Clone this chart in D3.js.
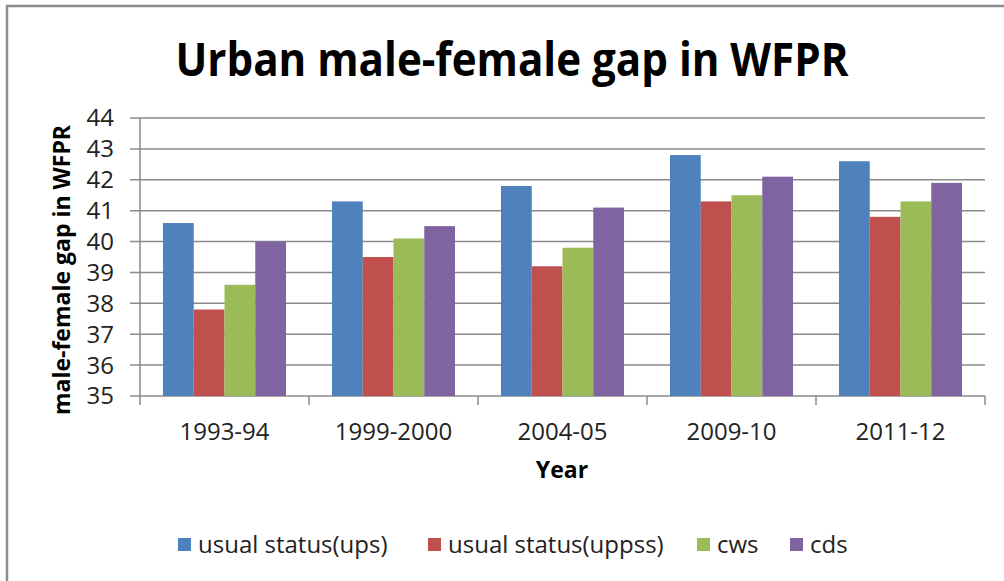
<!DOCTYPE html>
<html>
<head>
<meta charset="utf-8">
<script src="https://cdn.jsdelivr.net/npm/d3@7"></script>
<style>
  body { margin: 0; background: #fff; }
  text { font-family: "Open Sans", sans-serif; fill: #222; }
</style>
</head>
<body>
<svg id="chart" width="1004" height="581"></svg>
<script>
var years = ["1993-94", "1999-2000", "2004-05", "2009-10", "2011-12"];
var seriesNames = ["usual status(ups)", "usual status(uppss)", "cws", "cds"];
var ups   = [40.6, 41.3, 41.8, 42.8, 42.6];
var uppss = [37.8, 39.5, 39.2, 41.3, 40.8];
var cws   = [38.6, 40.1, 39.8, 41.5, 41.3];
var cds   = [40.0, 40.5, 41.1, 42.1, 41.9];
var yTicks = [35, 36, 37, 38, 39, 40, 41, 42, 43, 44];
var colors = ["#4F81BD", "#C0504D", "#9BBB59", "#8064A2"];

var allSeries = [ups, uppss, cws, cds];
var svg = d3.select("#chart");

// outer frame (only top and left visible in the original)
svg.append("rect")
    .attr("x", 7).attr("y", 6)
    .attr("width", 1010).attr("height", 600)
    .attr("fill", "none")
    .attr("stroke", "#8c8c8c")
    .attr("stroke-width", 2.5);

var plotLeft = 140, plotRight = 985, plotTop = 118, plotBottom = 396;

var x0 = d3.scaleBand()
    .domain(years)
    .range([plotLeft, plotRight])
    .paddingInner(0.272)
    .paddingOuter(0.136);

var x1 = d3.scaleBand()
    .domain(seriesNames)
    .range([0, x0.bandwidth()]);

var y = d3.scaleLinear()
    .domain([35, 44])
    .range([plotBottom, plotTop]);

// gridlines
svg.append("g")
    .selectAll("line")
    .data(yTicks)
    .join("line")
    .attr("x1", plotLeft - 10)
    .attr("x2", plotRight)
    .attr("y1", d => y(d))
    .attr("y2", d => y(d))
    .attr("stroke", "#8a8a8a")
    .attr("stroke-width", 1.5);

// y axis labels
svg.append("g")
    .selectAll("text")
    .data(yTicks)
    .join("text")
    .attr("x", 114)
    .attr("y", d => y(d))
    .attr("dy", "0.35em")
    .attr("text-anchor", "end")
    .style("font-size", "24px")
    .text(d => d);

// vertical axis line
svg.append("line")
    .attr("x1", plotLeft).attr("x2", plotLeft)
    .attr("y1", plotTop).attr("y2", plotBottom + 9)
    .attr("stroke", "#8a8a8a")
    .attr("stroke-width", 1.5);

// category separators on x axis
var step = x0.step();
svg.append("g")
    .selectAll("line")
    .data(years)
    .join("line")
    .attr("x1", (d, i) => plotLeft + step * (i + 1))
    .attr("x2", (d, i) => plotLeft + step * (i + 1))
    .attr("y1", plotBottom)
    .attr("y2", plotBottom + 9)
    .attr("stroke", "#8a8a8a")
    .attr("stroke-width", 1.5);

// bars
var groups = svg.append("g")
    .selectAll("g")
    .data(years)
    .join("g")
    .attr("transform", d => "translate(" + x0(d) + ",0)");

groups.selectAll("rect")
    .data((d, i) => seriesNames.map((s, j) => ({ s: s, v: allSeries[j][i], c: colors[j] })))
    .join("rect")
    .attr("x", d => x1(d.s))
    .attr("width", x1.bandwidth())
    .attr("y", d => y(d.v))
    .attr("height", d => y(35) - y(d.v))
    .attr("fill", d => d.c);

// x axis labels
svg.append("g")
    .selectAll("text")
    .data(years)
    .join("text")
    .attr("x", d => x0(d) + x0.bandwidth() / 2)
    .attr("y", 440)
    .attr("text-anchor", "middle")
    .style("font-size", "24px")
    .text(d => d);

// axis titles
svg.append("text")
    .attr("x", 562)
    .attr("y", 478)
    .attr("text-anchor", "middle")
    .style("font-size", "23px")
    .style("font-weight", "bold")
    .style("fill", "#000")
    .text("Year");

svg.append("text")
    .attr("transform", "translate(70,270) rotate(-90)")
    .attr("text-anchor", "middle")
    .style("font-size", "23px")
    .style("font-weight", "bold")
    .style("fill", "#000")
    .text("male-female gap in WFPR");

// chart title
svg.append("text")
    .attr("x", 512)
    .attr("y", 76)
    .attr("text-anchor", "middle")
    .attr("textLength", 673)
    .attr("lengthAdjust", "spacingAndGlyphs")
    .style("font-size", "46px")
    .style("font-weight", "bold")
    .style("fill", "#000")
    .text("Urban male-female gap in WFPR");

// legend
var legendX = [178, 428, 697, 790];
var legend = svg.append("g")
    .selectAll("g")
    .data(seriesNames)
    .join("g")
    .attr("transform", (d, i) => "translate(" + legendX[i] + ",545)");

legend.append("rect")
    .attr("x", 0).attr("y", -7)
    .attr("width", 13).attr("height", 13)
    .attr("fill", (d, i) => colors[i]);

legend.append("text")
    .attr("x", 20)
    .attr("dy", "0.35em")
    .style("font-size", "24px")
    .text(d => d);
</script>
</body>
</html>
